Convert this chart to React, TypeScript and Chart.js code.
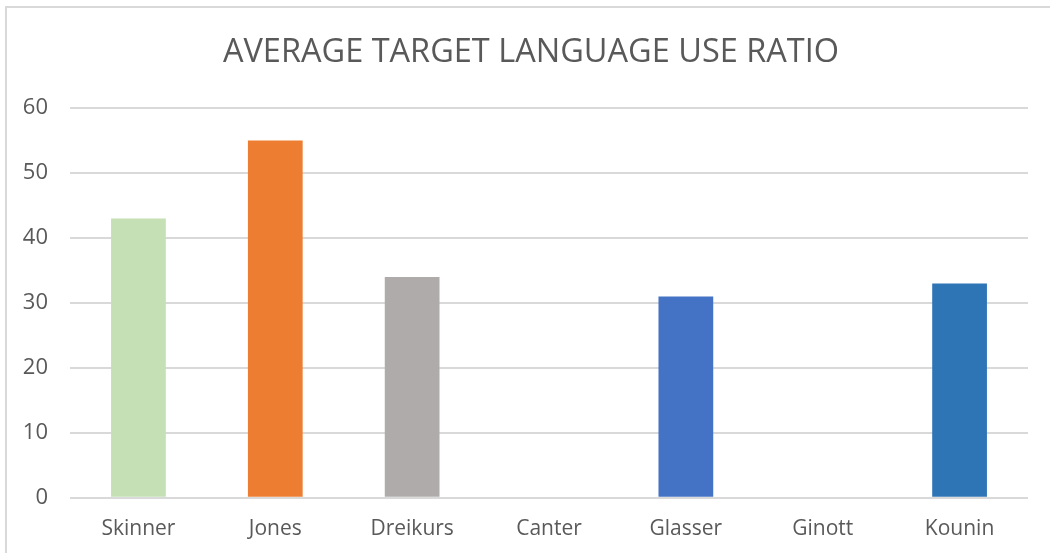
import React, { useEffect, useRef } from "react";
import { Chart, registerables } from "chart.js";

Chart.register(...registerables);

const categories = ["Skinner", "Jones", "Dreikurs", "Canter", "Glasser", "Ginott", "Kounin"];
const values = [43, 55, 34, 0, 31, 0, 33];
const barColors = ["#C5E0B4", "#ED7D31", "#AFABAB", "#A5A5A5", "#4472C4", "#FFC000", "#2E75B6"];
const titleText = "AVERAGE TARGET LANGUAGE USE RATIO";
const yMin = 0;
const yMax = 60;
const yStep = 10;

const FONT = "'Open Sans', sans-serif";
const Y_FONT_SIZE = 22;

export default function App() {
  const ref = useRef<HTMLCanvasElement | null>(null);

  useEffect(() => {
    if (!ref.current) return;
    const mctx = document.createElement("canvas").getContext("2d")!;
    mctx.font = `${Y_FONT_SIZE}px ${FONT}`;
    const widest = Math.max(...[0, 10, 20, 30, 40, 50, 60].map((v) => mctx.measureText(String(v)).width));
    const chart = new Chart(ref.current, {
      type: "bar",
      data: {
        labels: categories,
        datasets: [
          {
            data: values,
            backgroundColor: barColors,
            borderWidth: 0,
            categoryPercentage: 1,
            barPercentage: 0.4,
          },
        ],
      },
      options: {
        animation: false,
        responsive: false,
        maintainAspectRatio: false,
        layout: { padding: { left: 34, right: 22, top: 33, bottom: 0 } },
        plugins: {
          legend: { display: false },
          tooltip: { enabled: false },
          title: {
            display: true,
            text: titleText,
            color: "#595959",
            font: { family: FONT, size: 32.5, weight: "normal" },
            padding: { top: 0, bottom: 36 },
          },
        },
        scales: {
          x: {
            grid: { display: false },
            border: { display: false },
            ticks: { color: "#595959", font: { family: FONT, size: 21 }, padding: 11 },
          },
          y: {
            min: yMin,
            max: yMax,
            grid: { color: "#D9D9D9", lineWidth: 2, drawTicks: false },
            border: { display: false },
            ticks: {
              stepSize: yStep,
              color: "#595959",
              font: { family: FONT, size: Y_FONT_SIZE },
              mirror: true,
              crossAlign: "far",
              padding: -(22 + widest),
            },
            afterFit: (axis: any) => {
              axis.width = 36;
            },
          },
        },
      },
    });
    return () => chart.destroy();
  }, []);

  return (
    <div style={{ position: "absolute", left: 0, top: 0, width: 1050, height: 553, overflow: "hidden", background: "#fff" }}>
      <div
        style={{
          position: "absolute",
          left: 5,
          top: 6,
          width: 1100,
          height: 600,
          border: "2px solid #D9D9D9",
        }}
      />
      <canvas ref={ref} width={1050} height={553} style={{ position: "absolute", left: 0, top: 0 }} />
    </div>
  );
}
